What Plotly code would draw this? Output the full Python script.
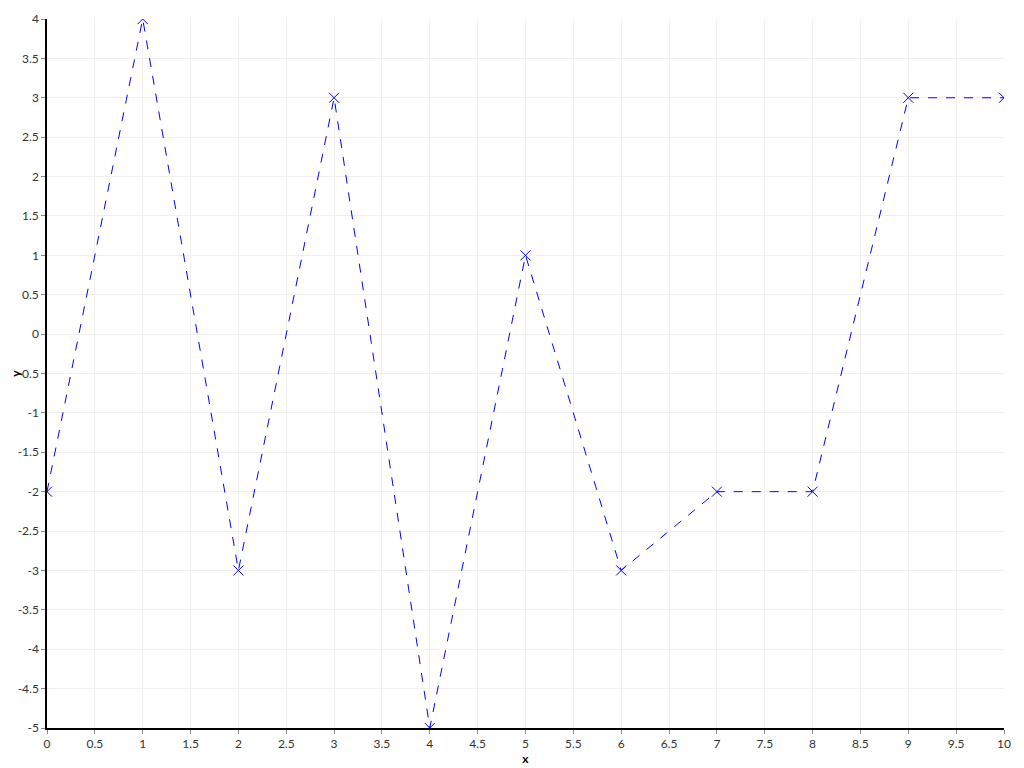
import plotly.graph_objects as go

x_vals = [0, 1, 2, 3, 4, 5, 6, 7, 8, 9, 10]
y_vals = [-2, 4, -3, 3, -5, 1, -3, -2, -2, 3, 3]

x_ticks = [i * 0.5 for i in range(0, 21)]
y_ticks = [-5 + i * 0.5 for i in range(0, 19)]


def fmt(v):
    return str(int(v)) if float(v).is_integer() else str(v)


axis_common = dict(
    showgrid=True, gridcolor="#f0f0f0", gridwidth=1,
    showline=True, linecolor="black", linewidth=1.5,
    ticks="outside", ticklen=4, tickcolor="#888", zeroline=False,
    tickfont=dict(family="Lato, sans-serif", size=12, color="#333"),
    mirror=False,
)

fig = go.Figure()
fig.add_trace(go.Scatter(
    x=x_vals, y=y_vals, mode="lines+markers",
    line=dict(color="blue", width=1, dash="dash"),
    marker=dict(symbol="x-thin", size=10, line=dict(color="blue", width=1), color="blue"),
    cliponaxis=True, showlegend=False,
))

fig.update_layout(
    width=1024, height=768,
    margin=dict(l=39, r=28, t=11, b=48, autoexpand=False),
    plot_bgcolor="white", paper_bgcolor="white",
    xaxis=dict(range=[0, 10], tickvals=x_ticks, ticktext=[fmt(v) for v in x_ticks],
               automargin=True,
               title=dict(text="<b>x</b>", standoff=2,
                          font=dict(family="Lato, sans-serif", size=12, color="black")),
               **axis_common),
    yaxis=dict(range=[-5, 4], tickvals=y_ticks, ticktext=[fmt(v) for v in y_ticks],
               automargin=False,
               title=dict(text="<b>y</b>",
                          font=dict(family="Lato, sans-serif", size=12, color="black")),
               **axis_common),
)

fig.write_html("out.html")
